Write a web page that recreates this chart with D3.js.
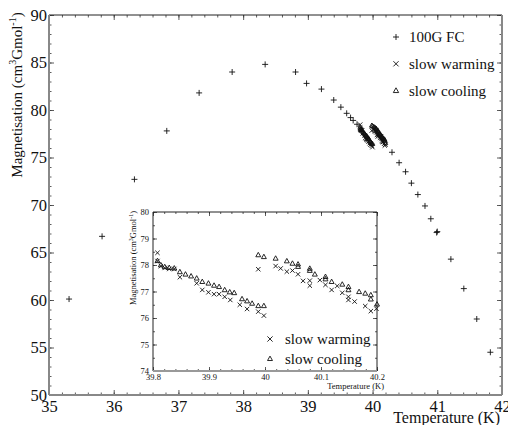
<!DOCTYPE html>
<html>
<head>
<meta charset="utf-8">
<script src="https://cdn.jsdelivr.net/npm/d3@7"></script>
<style>
  html, body { margin: 0; padding: 0; background: #fff; }
  svg text { font-family: "Liberation Serif", "Times New Roman", Times, serif; }
</style>
</head>
<body>
<svg id="chart" width="508" height="425"></svg>
<script>
// 100G field-cooled magnetisation
const fcT = [35.31, 35.82, 36.32, 36.82, 37.32, 37.83, 38.34, 38.81, 38.98, 39.21, 39.40, 39.51, 39.60, 39.66, 39.70, 39.76,
             40.30, 40.41, 40.51, 40.60, 40.70, 40.81, 40.90, 40.99, 41.00, 41.21, 41.41, 41.61, 41.82];
const fcM = [60.1, 66.7, 72.7, 77.8, 81.8, 84.0, 84.8, 84.0, 82.8, 82.2, 81.05, 80.3, 79.65, 79.2, 78.9, 78.5,
             75.55, 74.45, 73.5, 72.3, 71.1, 69.9, 68.55, 67.1, 67.2, 64.3, 61.2, 58.0, 54.5];

// slow warming runs
const warmT = [39.808, 39.808, 39.814, 39.821, 39.829, 39.838, 39.848, 39.878, 39.888, 39.899, 39.909, 39.918, 39.928,
               39.938, 39.955, 39.968, 39.988, 39.998,
               39.988, 40.019, 40.028, 40.039, 40.049, 40.059, 40.068, 40.080, 40.080, 40.098, 40.108, 40.119, 40.129,
               40.138, 40.149, 40.149, 40.160, 40.179, 40.189, 40.199];
const warmM = [78.46, 78.15, 77.96, 77.89, 77.85, 77.85, 77.54, 77.31, 77.06, 76.97, 76.90, 76.90, 76.80,
               76.68, 76.50, 76.34, 76.24, 76.09,
               77.84, 77.96, 77.87, 77.75, 77.79, 77.65, 77.40, 77.41, 77.22, 77.43, 77.25, 77.06, 77.21,
               76.95, 76.80, 76.68, 76.62, 76.45, 76.26, 76.35];

// slow cooling runs
const coolT = [39.808, 39.814, 39.821, 39.829, 39.838, 39.848, 39.858, 39.868, 39.878, 39.888, 39.899, 39.909, 39.918,
               39.928, 39.937, 39.945, 39.959, 39.968, 39.977, 39.988, 39.998,
               39.988, 39.998, 40.019, 40.039, 40.049, 40.059, 40.059, 40.080, 40.080, 40.089, 40.108, 40.108, 40.119,
               40.138, 40.149, 40.149, 40.168, 40.179, 40.189, 40.189, 40.200];
const coolM = [78.16, 78.00, 77.93, 77.90, 77.88, 77.74, 77.65, 77.58, 77.50, 77.37, 77.31, 77.23, 77.18,
               77.06, 76.98, 76.95, 76.72, 76.64, 76.55, 76.46, 76.46,
               78.38, 78.31, 78.25, 78.15, 78.06, 78.03, 77.94, 77.87, 77.79, 77.65, 77.56, 77.47, 77.37,
               77.27, 77.18, 77.06, 76.99, 76.93, 76.87, 76.71, 76.52];

const mainXTicks = [35, 36, 37, 38, 39, 40, 41, 42];
const mainYTicks = [50, 55, 60, 65, 70, 75, 80, 85, 90];
const insetXTicks = [39.8, 39.9, 40.0, 40.1, 40.2];
const insetXLabels = ["39.8", "39.9", "40", "40.1", "40.2"];
const insetYTicks = [74, 75, 76, 77, 78, 79, 80];

const legendMain = ["100G FC", "slow warming", "slow cooling"];
const legendInset = ["slow warming", "slow cooling"];

const FONT = "Liberation Serif, Times New Roman, Times, serif";
const svg = d3.select("#chart").attr("font-family", FONT);

// marker glyphs (stroked outlines)
const glyph = {
  plus:  s => `M${-s},0H${s}M0,${-s}V${s}`,
  cross: s => `M${-s},${-s}L${s},${s}M${-s},${s}L${s},${-s}`,
  tri:   s => `M0,${-s}L${s * 0.95},${s * 0.7}L${-s * 0.95},${s * 0.7}Z`
};

function drawPoints(g, T, M, x, y, shape, size) {
  g.selectAll(null)
    .data(T.map((t, i) => [t, M[i]]))
    .join("path")
    .attr("transform", d => `translate(${x(d[0])},${y(d[1])})`)
    .attr("d", glyph[shape](size))
    .attr("fill", "none")
    .attr("stroke", "#111")
    .attr("stroke-width", 0.9);
}

function frame(g, x, y, opt) {
  const [x0, x1] = x.range(), [y0, y1] = y.range();
  const ax = g.append("g");
  // minor ticks on all sides
  const mk = (axis, tr) => ax.append("g").attr("transform", tr).call(axis)
    .call(s => s.select(".domain").remove())
    .call(s => s.selectAll("line").attr("stroke", "#333").attr("stroke-width", 0.8));
  mk(d3.axisBottom(x).tickValues(opt.xMinor).tickSize(-opt.minor).tickFormat(""), `translate(0,${y0})`);
  mk(d3.axisTop(x).tickValues(opt.xMinor).tickSize(-opt.minor).tickFormat(""), `translate(0,${y1})`);
  mk(d3.axisLeft(y).tickValues(opt.yMinor).tickSize(-opt.minor).tickFormat(""), `translate(${x0},0)`);
  mk(d3.axisRight(y).tickValues(opt.yMinor).tickSize(-opt.minor).tickFormat(""), `translate(${x1},0)`);
  mk(d3.axisTop(x).tickValues(opt.xTicks).tickSize(-opt.major).tickFormat(""), `translate(0,${y1})`);
  mk(d3.axisRight(y).tickValues(opt.yTicks).tickSize(-opt.major).tickFormat(""), `translate(${x1},0)`);

  // labelled axes
  const bx = ax.append("g").attr("transform", `translate(0,${y0})`)
    .call(d3.axisBottom(x).tickValues(opt.xTicks).tickSize(-opt.major).tickPadding(opt.xPad)
      .tickFormat((d, i) => opt.xLabels ? opt.xLabels[i] : d3.format("d")(d)));
  const ly = ax.append("g").attr("transform", `translate(${x0},0)`)
    .call(d3.axisLeft(y).tickValues(opt.yTicks).tickSize(-opt.major).tickPadding(opt.yPad)
      .tickFormat(d3.format("d")));
  [bx, ly].forEach(s => {
    s.attr("font-family", FONT).attr("font-size", opt.font);
    s.select(".domain").remove();
    s.selectAll("line").attr("stroke", "#333").attr("stroke-width", 0.8);
    s.selectAll("text").attr("fill", "#111");
  });

  // spines
  ax.append("line").attr("x1", x0).attr("x2", x1).attr("y1", y1).attr("y2", y1)
    .attr("stroke", "#222").attr("stroke-width", opt.thin);
  ax.append("line").attr("x1", x0).attr("x2", x1).attr("y1", y0).attr("y2", y0)
    .attr("stroke", opt.heavyColor).attr("stroke-width", opt.heavy);
  ax.append("line").attr("x1", x0).attr("x2", x0).attr("y1", y0).attr("y2", y1)
    .attr("stroke", opt.leftColor).attr("stroke-width", opt.leftW);
  ax.append("line").attr("x1", x1).attr("x2", x1).attr("y1", y0).attr("y2", y1)
    .attr("stroke", opt.heavyColor).attr("stroke-width", opt.heavy);
  return ax;
}

function yTitle(g, cx, cy, size, supSize) {
  const t = g.append("text")
    .attr("transform", `translate(${cx},${cy}) rotate(-90)`)
    .attr("text-anchor", "middle")
    .attr("font-size", size).attr("fill", "#111");
  t.append("tspan").text("Magnetisation (cm");
  t.append("tspan").attr("dy", -size * 0.4).attr("font-size", supSize).text("3");
  t.append("tspan").attr("dy", size * 0.4).text("Gmol");
  t.append("tspan").attr("dy", -size * 0.4).attr("font-size", supSize).text("-1");
  t.append("tspan").attr("dy", size * 0.4).text(")");
}

// ---------- main panel ----------
const x = d3.scaleLinear().domain([35, 42]).range([49, 502]);
const y = d3.scaleLinear().domain([50, 90]).range([395, 15]);

const main = svg.append("g");
frame(main, x, y, {
  xTicks: mainXTicks, yTicks: mainYTicks,
  xMinor: d3.range(35, 42.001, 0.2), yMinor: d3.range(50, 90.001, 1),
  major: 5, minor: 2.5, xPad: 5, yPad: 2, font: 16.5,
  thin: 1, heavy: 2, heavyColor: "#888", leftColor: "#888", leftW: 2
});

const mainPts = main.append("g");
drawPoints(mainPts, fcT, fcM, x, y, "plus", 3);
drawPoints(mainPts, warmT, warmM, x, y, "cross", 2.2);
drawPoints(mainPts, coolT, coolM, x, y, "tri", 2.4);

yTitle(main, 22, 95, 15, 10);
main.append("text").attr("x", 500).attr("y", 423).attr("text-anchor", "end")
  .attr("font-size", 16).attr("fill", "#111").text("Temperature (K)");

// main legend
const legShapes = ["plus", "cross", "tri"];
const legSizes = [3, 2.6, 2.8];
const lg = main.append("g");
legendMain.forEach((lab, i) => {
  const yy = 37 + i * 26.8;
  lg.append("path").attr("transform", `translate(396,${yy})`)
    .attr("d", glyph[legShapes[i]](legSizes[i]))
    .attr("fill", "none").attr("stroke", "#111").attr("stroke-width", 0.9);
  lg.append("text").attr("x", 409).attr("y", yy + 5).attr("font-size", 15).attr("fill", "#111").text(lab);
});

// ---------- inset panel ----------
const xi = d3.scaleLinear().domain([39.8, 40.2]).range([153, 377]);
const yi = d3.scaleLinear().domain([74, 80]).range([371, 212]);

const inset = svg.append("g");
inset.append("rect").attr("x", 153).attr("y", 212).attr("width", 224).attr("height", 159).attr("fill", "#fff");
frame(inset, xi, yi, {
  xTicks: insetXTicks, xLabels: insetXLabels, yTicks: insetYTicks,
  xMinor: d3.range(39.8, 40.2001, 0.02), yMinor: d3.range(74, 80.001, 0.5),
  major: 4, minor: 2, xPad: 3, yPad: 4, font: 8.5,
  thin: 1, heavy: 1, heavyColor: "#222", leftColor: "#222", leftW: 1
});
// heavier bottom spine
inset.append("line").attr("x1", 153).attr("x2", 377).attr("y1", 371).attr("y2", 371)
  .attr("stroke", "#999").attr("stroke-width", 2);

const insetPts = inset.append("g");
drawPoints(insetPts, warmT, warmM, xi, yi, "cross", 2.2);
drawPoints(insetPts, coolT, coolM, xi, yi, "tri", 2.6);

yTitle(inset, 136, 258, 8.5, 6);
inset.append("text").attr("x", 384).attr("y", 389).attr("text-anchor", "end")
  .attr("font-size", 8.5).attr("fill", "#111").text("Temperature (K)");

const li = inset.append("g");
legendInset.forEach((lab, i) => {
  const yy = 339 + i * 19.7;
  li.append("path").attr("transform", `translate(270,${yy})`)
    .attr("d", glyph[i === 0 ? "cross" : "tri"](2.6))
    .attr("fill", "none").attr("stroke", "#111").attr("stroke-width", 0.9);
  li.append("text").attr("x", 285).attr("y", yy + 5).attr("font-size", 15).attr("fill", "#111").text(lab);
});
</script>
</body>
</html>
